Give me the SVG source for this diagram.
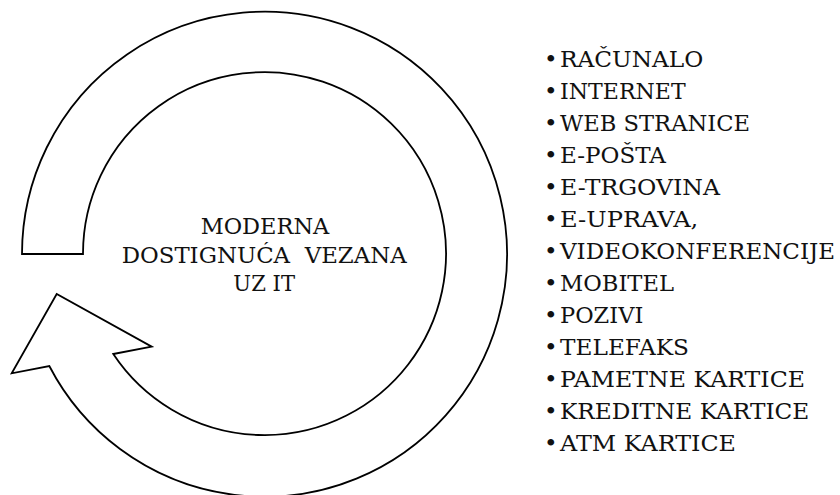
<svg xmlns="http://www.w3.org/2000/svg" width="840" height="495" viewBox="0 0 840 495">
<style>
.shape{fill:#fff;stroke:#000;stroke-width:1.8;stroke-linejoin:miter}
.c{font-size:23px;text-anchor:middle}
.l{font-size:23px}
.b{font-size:23px;text-anchor:middle}
</style>
<rect width="840" height="495" fill="#fff"/>
<g id="cycle-arrow">
<path class="shape" d="M 22 254 L 83 254 A 181.5 181.5 0 1 1 113.3 354 L 151.7 346.7 L 56.7 294 L 11.7 373.3 L 49.3 366 A 242.5 242.5 0 1 0 22 254 Z"/>
</g>
<g id="center-label" font-family="'DejaVu Serif', 'Liberation Serif', serif" fill="#111">
<text class="c" x="265" y="234.3" textLength="128.6" lengthAdjust="spacingAndGlyphs">MODERNA</text>
<text class="c" x="264.2" y="263.3" xml:space="preserve" textLength="285" lengthAdjust="spacingAndGlyphs">DOSTIGNUĆA  VEZANA</text>
<text class="c" x="264.2" y="291" textLength="61.7" lengthAdjust="spacingAndGlyphs">UZ IT</text>
</g>
<g id="list" font-family="'DejaVu Serif', 'Liberation Serif', serif" fill="#111">
<text class="b" x="550.7" y="67">•</text><text class="l" x="560" y="67" textLength="143.3" lengthAdjust="spacingAndGlyphs">RAČUNALO</text>
<text class="b" x="550.7" y="99">•</text><text class="l" x="560" y="99" textLength="125.7" lengthAdjust="spacingAndGlyphs">INTERNET</text>
<text class="b" x="550.7" y="131">•</text><text class="l" x="560" y="131" textLength="190" lengthAdjust="spacingAndGlyphs">WEB STRANICE</text>
<text class="b" x="550.7" y="163">•</text><text class="l" x="560" y="163" textLength="106" lengthAdjust="spacingAndGlyphs">E-POŠTA</text>
<text class="b" x="550.7" y="195">•</text><text class="l" x="560" y="195" textLength="160" lengthAdjust="spacingAndGlyphs">E-TRGOVINA</text>
<text class="b" x="550.7" y="227">•</text><text class="l" x="560" y="227" textLength="138.3" lengthAdjust="spacingAndGlyphs">E-UPRAVA,</text>
<text class="b" x="550.7" y="259">•</text><text class="l" x="560" y="259" textLength="275" lengthAdjust="spacingAndGlyphs">VIDEOKONFERENCIJE</text>
<text class="b" x="550.7" y="291">•</text><text class="l" x="560" y="291" textLength="114" lengthAdjust="spacingAndGlyphs">MOBITEL</text>
<text class="b" x="550.7" y="323">•</text><text class="l" x="560" y="323" textLength="83.3" lengthAdjust="spacingAndGlyphs">POZIVI</text>
<text class="b" x="550.7" y="355">•</text><text class="l" x="560" y="355" textLength="129" lengthAdjust="spacingAndGlyphs">TELEFAKS</text>
<text class="b" x="550.7" y="387">•</text><text class="l" x="560" y="387" textLength="245" lengthAdjust="spacingAndGlyphs">PAMETNE KARTICE</text>
<text class="b" x="550.7" y="419">•</text><text class="l" x="560" y="419" textLength="249.3" lengthAdjust="spacingAndGlyphs">KREDITNE KARTICE</text>
<text class="b" x="550.7" y="451">•</text><text class="l" x="560" y="451" textLength="176" lengthAdjust="spacingAndGlyphs">ATM KARTICE</text>
</g>
</svg>
